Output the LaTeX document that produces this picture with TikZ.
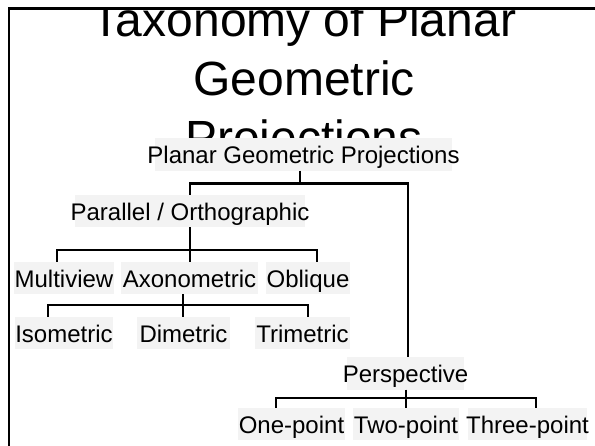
\documentclass[tikz,border=0pt]{standalone}
\usepackage{fontspec}
\setmainfont{Liberation Sans}
\definecolor{boxgray}{HTML}{F3F3F3}
\newcommand\boxtxt[2]{\makebox[#1]{#2}}
\begin{document}
\begin{tikzpicture}[x=1pt,y=-1pt,
  box/.style={fill=boxgray, inner xsep=0pt, inner ysep=0pt, minimum height=32.5pt,
    text height=20pt, text depth=1pt, font=\fontsize{24}{28}\selectfont, anchor=center},
  link/.style={line width=2.2pt},
  titlefont/.style={font=\fontsize{48}{58}\selectfont, anchor=base, inner sep=0pt}]
\clip (0,0) rectangle (595,446);
% title, clipped to the frame interior
\begin{scope}
  \clip (9.5,9.5) rectangle (595,446);
  \node[titlefont] (t1) at (304,37) {Taxonomy of Planar};
  \node[titlefont] (t2) at (304,96) {Geometric};
  \node[titlefont] (t3) at (304,155) {Projections};
\end{scope}
% frame
\draw[line width=2.4pt] (8.7,8.7) rectangle (640,480);
% nodes
\node[box] (pgp) at (303.5,154.5) {\boxtxt{297pt}{Planar Geometric Projections}};
\node[box] (par) at (190,211) {\boxtxt{230pt}{Parallel / Orthographic}};
\node[box] (mv) at (64,278) {\boxtxt{100pt}{Multiview}};
\node[box] (ax) at (189.5,278) {\boxtxt{137pt}{Axonometric}};
\node[box] (ob) at (308,278) {\boxtxt{84pt}{Oblique}};
\node[box] (iso) at (64,333) {\boxtxt{98pt}{Isometric}};
\node[box] (di) at (183.5,333) {\boxtxt{93pt}{Dimetric}};
\node[box] (tri) at (302.5,333) {\boxtxt{95pt}{Trimetric}};
\node[box] (per) at (405.5,373.5) {\boxtxt{117pt}{Perspective}};
\node[box] (one) at (291.5,424) {\boxtxt{107pt}{One-point}};
\node[box] (two) at (406,424) {\boxtxt{106pt}{Two-point}};
\node[box] (three) at (527.5,424) {\boxtxt{119pt}{Three-point}};
% connectors
\draw[link] ([xshift=-3.5pt]pgp.south) -- ++(0,12.5) -| (par.north);
\draw[link] ([xshift=-3.5pt]pgp.south) -- ++(0,12.5) -| ([xshift=2.5pt]per.north);
\draw[link] (par.south) -- ++(0,22.75) -| ([xshift=-7pt]mv.north);
\draw[link] (par.south) -- (par.south |- ax.north);
\draw[link] (par.south) -- ++(0,22.75) -| ([xshift=9pt]ob.north);
\draw[link] ([xshift=-6.5pt]ax.south) -- ++(0,10.75) -| ([xshift=-16pt]iso.north);
\draw[link] ([xshift=-6.5pt]ax.south) -- ([xshift=-6.5pt]ax.south |- di.north);
\draw[link] ([xshift=-6.5pt]ax.south) -- ++(0,10.75) -| ([xshift=5.5pt]tri.north);
\draw[link] ([xshift=0.5pt]per.south) -- ++(0,8.25) -| ([xshift=-15.5pt]one.north);
\draw[link] ([xshift=0.5pt]per.south) -- ([xshift=0.5pt]per.south |- two.north);
\draw[link] ([xshift=0.5pt]per.south) -- ++(0,8.25) -| ([xshift=8.5pt]three.north);
\end{tikzpicture}
\end{document}
